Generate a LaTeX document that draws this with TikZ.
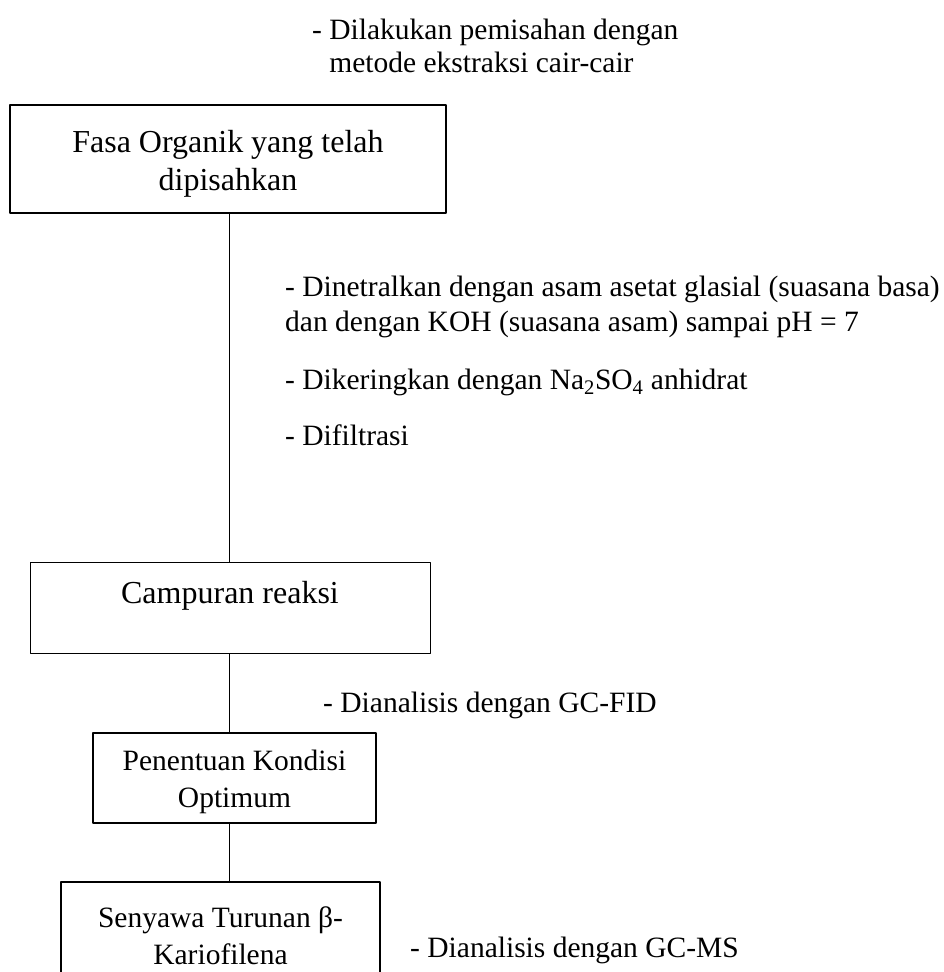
\documentclass[tikz,border=0pt]{standalone}
\usepackage{fontspec}
\setmainfont{Liberation Serif}
\newcommand{\bigtxt}{\fontsize{32}{38}\selectfont}
\newcommand{\smalltxt}{\fontsize{29.5}{35}\selectfont}
\begin{document}
\begin{tikzpicture}[x=1pt,y=-1pt,line join=round,
	kotak/.style={draw,line width=1.2pt,align=center,inner sep=0pt},
	ket/.style={anchor=base west,align=left,inner sep=0pt,font=\smalltxt}]
		\useasboundingbox (0,0) rectangle (944,972);
		\clip (0,0) rectangle (944,972);
		\coordinate (spine) at (229,0);
		\node[ket,font=\fontsize{29.5}{33}\selectfont] (pisah) at (312,72) {- Dilakukan pemisahan dengan\\\hphantom{-}\ metode ekstraksi cair-cair};
		\node[kotak,minimum width=436,minimum height=108,font=\bigtxt] (fasa) at (228,159) {\rule{0pt}{32pt}Fasa Organik yang telah\\dipisahkan};
		\node[ket] (netral) at (285,331) {- Dinetralkan dengan asam asetat glasial (suasana basa)\\dan dengan KOH (suasana asam) sampai pH = 7};
		\node[ket] (kering) at (285,389) {- Dikeringkan dengan Na\textsubscript{2}SO\textsubscript{4} anhidrat};
		\node[ket] (filtrasi) at (285,445) {- Difiltrasi};
		\node[kotak,line width=0.9pt,minimum width=400,minimum height=91,text depth=30pt,font=\bigtxt] (campuran) at (230,607.5) {Campuran reaksi};
		\node[ket] (fid) at (323,712) {- Dianalisis dengan GC-FID};
		\node[kotak,minimum width=283,minimum height=90,font=\fontsize{29.5}{37}\selectfont] (optimum) at (234.5,778) {\rule{0pt}{28pt}Penentuan Kondisi\\Optimum};
		\node[kotak,minimum width=319,minimum height=108,font=\fontsize{29.5}{37}\selectfont] (turunan) at (220.5,936) {Senyawa Turunan β-\\Kariofilena};
		\node[ket] (ms) at (410,957) {- Dianalisis dengan GC-MS};
		\draw[line width=0.9pt] (spine |- fasa.south) -- (spine |- campuran.north);
		\draw[line width=0.9pt] (spine |- campuran.south) -- (spine |- optimum.north);
		\draw[line width=0.9pt] (spine |- optimum.south) -- (spine |- turunan.north);
		\end{tikzpicture}
\end{document}
